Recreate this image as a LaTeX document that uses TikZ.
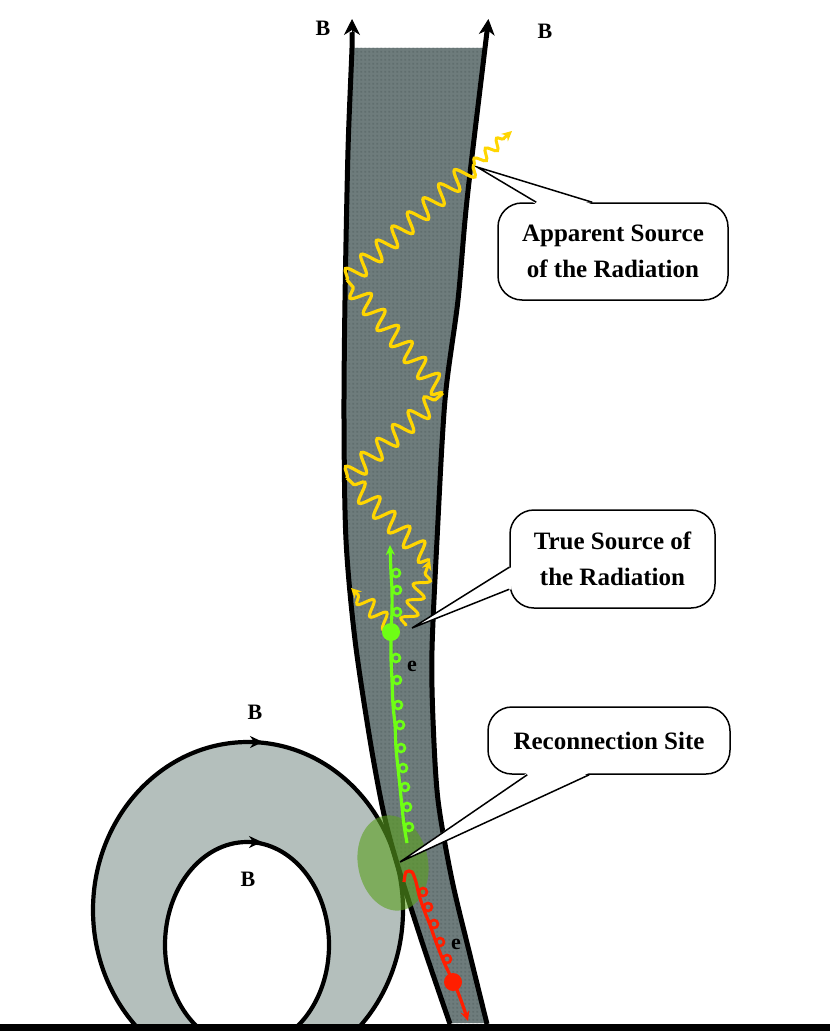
\documentclass[tikz,border=0pt]{standalone}
\usepackage{fontspec}
\setmainfont{Liberation Serif}
\usetikzlibrary{arrows.meta,decorations.pathmorphing,calc,patterns}
\definecolor{tubegray}{RGB}{110,124,124}
\definecolor{tubedot}{RGB}{96,110,110}
\definecolor{torusgray}{RGB}{180,191,188}
\definecolor{recgreen}{RGB}{90,160,30}
\definecolor{wavey}{RGB}{255,214,0}
\definecolor{elgreen}{RGB}{110,255,20}
\definecolor{elred}{RGB}{255,30,0}
\pgfdeclarepatternformonly{tubedots}{\pgfqpoint{0pt}{0pt}}{\pgfqpoint{4pt}{4pt}}{\pgfqpoint{4pt}{4pt}}{\pgfpathrectangle{\pgfqpoint{0.5pt}{0.5pt}}{\pgfqpoint{2pt}{2pt}}\pgfusepath{fill}}
\begin{document}
\begin{tikzpicture}[x=1pt,y=-1pt,
  tubeline/.style={line width=5pt,black},
  tubetip/.style={line width=1pt,-{Stealth[length=16pt,width=16pt,inset=5pt]}},
  torusline/.style={line width=4.2pt,black},
  torusarrow/.style={line width=4.2pt,-{Stealth[length=13pt,width=12pt]}},
  ywave/.style={wavey,line width=3.2pt,decorate,decoration={snake,amplitude=9.5pt,segment length=21pt}},
  swave/.style={wavey,line width=3pt,decorate,decoration={snake,amplitude=7.5pt,segment length=18pt,post length=6pt},-{Stealth[length=10pt,width=10pt]}},
  tinywave/.style={wavey,line width=3pt,decorate,decoration={snake,amplitude=5pt,segment length=15pt,post length=6pt},-{Stealth[length=10pt,width=10pt]}},
  eline/.style={line width=3.2pt,-{Stealth[length=10pt,width=9pt]}},
  curl/.style={line width=2.6pt},
  callout/.style={draw,fill=white,line width=1.5pt,rounded corners=24pt,align=center,inner sep=0pt,
    font=\bfseries\fontsize{25}{36}\selectfont},
  tail/.style={line width=1.5pt,black},
  lbl/.style={font=\bfseries\fontsize{22}{26}\selectfont,inner sep=0pt}]
\useasboundingbox (0,0) rectangle (830,1033);
\fill[white] (0,0) rectangle (830,1033);

% torus (flux rope loop)
\begin{scope}
\clip (0,0) rectangle (830,1024);
\fill[torusgray,even odd rule] (248,910) ellipse [x radius=155,y radius=168]
  (247,945) ellipse [x radius=82,y radius=103];
\draw[torusline] (248,910) ellipse [x radius=155,y radius=168];
\draw[torusline] (247,945) ellipse [x radius=82,y radius=103];
\end{scope}
\coordinate (oa1) at (244,742);
\coordinate (oa2) at (263,742);
\coordinate (ia1) at (243,842);
\coordinate (ia2) at (262,842);
\draw[torusarrow] (oa1) -- (oa2);
\draw[torusarrow] (ia1) -- (ia2);

% open flux tube
\fill[tubegray,postaction={pattern=tubedots,pattern color=tubedot}]
  plot[smooth] coordinates {(352,48) (348,150) (345,300) (344,420) (346,540) (355,640) (370,740) (383,810) (396,860) (423,945) (450,1023)}
  -- (487,1023) --
  plot[smooth] coordinates {(487,1023) (470,955) (452,880) (438,800) (433,720) (432,650) (437,540) (445,400) (458,300) (467,200) (485,48)}
  -- cycle;
\draw[tubeline] plot[smooth] coordinates {(352,32) (352,48) (348,150) (345,300) (344,420) (346,540) (355,640) (370,740) (383,810) (396,860) (423,945) (450,1024)};
\draw[tubeline] plot[smooth] coordinates {(487,32) (485,48) (467,200) (458,300) (445,400) (437,540) (432,650) (433,720) (438,800) (452,880) (470,955) (487,1024)};
\coordinate (tl1) at (352,36);
\coordinate (tl2) at (352,19);
\coordinate (tr1) at (486.6,36);
\coordinate (tr2) at (488.4,19);
\draw[tubetip] (tl1) -- (tl2);
\draw[tubetip] (tr1) -- (tr2);

% reconnection site
\fill[recgreen,opacity=0.6,rotate around={11:(393,863)}] (393,863) ellipse [x radius=35,y radius=48];

% callouts
\coordinate (appsrc) at (477,167);
\coordinate (trusrc) at (412,628);
\coordinate (recsrc) at (400,862);
\node[callout,minimum width=230pt,minimum height=97pt] (app) at (613,251.5) {Apparent Source\\of the Radiation};
\node[callout,minimum width=205pt,minimum height=98pt] (tru) at (612.5,559) {True Source of\\the Radiation};
\node[callout,minimum width=242pt,minimum height=67pt] (rec) at (609,740.5) {Reconnection Site};
\fill[white] ($(app.north west)+(39,2)$) -- (appsrc) -- ($(app.north west)+(95,2)$) -- cycle;
\draw[tail] ($(app.north west)+(39,0)$) -- (appsrc) -- ($(app.north west)+(95,0)$);
\fill[white] ($(tru.north west)+(2,58)$) -- (trusrc) -- ($(tru.north west)+(2,80)$) -- cycle;
\draw[tail] ($(tru.north west)+(0,58)$) -- (trusrc) -- ($(tru.north west)+(0,80)$);
\fill[white] ($(rec.south west)+(40,-2)$) -- (recsrc) -- ($(rec.south west)+(102,-2)$) -- cycle;
\draw[tail] ($(rec.south west)+(40,0)$) -- (recsrc) -- ($(rec.south west)+(102,0)$);

% radiation (photon paths)
\coordinate (w0) at (430,560);
\coordinate (w1) at (347,478);
\coordinate (w2) at (443,393);
\coordinate (w3) at (347,280);
\coordinate (w4) at (474,165);
\coordinate (w5) at (512,131);
\coordinate (s0) at (406,626);
\coordinate (s1) at (392,628);
\coordinate (s2) at (351,588);
\draw[ywave] (w0) -- (w1);
\draw[ywave] (w1) -- (w2);
\draw[ywave] (w2) -- (w3);
\draw[ywave] (w3) -- (w4);
\draw[tinywave] (w4) -- (w5);
\draw[swave] (s0) -- (w0);
\draw[swave] (s1) -- (s2);

% accelerated electron moving up (green)
\draw[eline,elgreen] plot[smooth] coordinates {(407,843) (404,825) (402,807) (400,787) (398,768) (396,748) (395,725) (393,705) (392,680) (391,658) (391,632) (392,612) (392,590) (391,573) (390,545)};
\foreach \cx/\cy in {396/573,397/590,397/612,396/658,397/680,398/705,400/725,401/748,403/768,405/787,407/807,409/827}
  \draw[curl,elgreen] (\cx,\cy) circle [radius=4];
\fill[elgreen] (391,632) circle [radius=9];

% electron moving down (red)
\draw[eline,elred] plot[smooth] coordinates {(404,882) (406,872) (412,872) (416,882) (419,895) (424,910) (430,925) (436,942) (443,960) (450,975) (455,985) (462,1003) (468,1021)};
\foreach \cx/\cy in {423/892,428/907,434/924,440/942,447/959}
  \draw[curl,elred] (\cx,\cy) circle [radius=4];
\fill[elred] (453,982) circle [radius=9];

% labels
\node[lbl] (bl) at (323,28) {B};
\node[lbl] (br) at (545,31) {B};
\node[lbl] (bo) at (255,712) {B};
\node[lbl] (bi) at (248,879) {B};
\node[lbl] (eg) at (412,666) {e};
\node[lbl] (er) at (456,944) {e};

% ground
\coordinate (g1) at (0,1027);
\coordinate (g2) at (830,1027);
\draw[line width=7pt] (g1) -- (g2);
\end{tikzpicture}
\end{document}
